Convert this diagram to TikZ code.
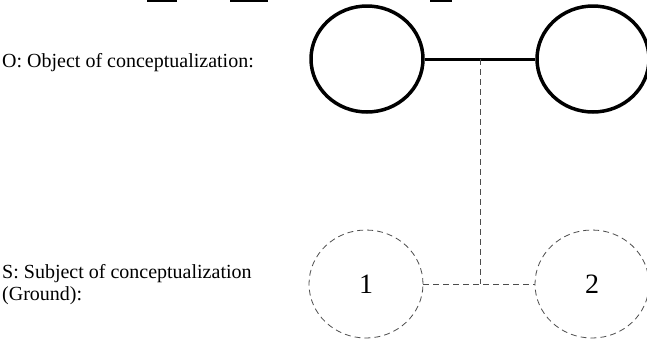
\documentclass[tikz,border=0pt]{standalone}
\usepackage{fontspec}
\setmainfont{Liberation Serif}
\usetikzlibrary{shapes.geometric}
\begin{document}
\begin{tikzpicture}[x=1pt, y=-1pt,
    objcircle/.style={ellipse, draw, line width=3.5pt, minimum width=112pt, minimum height=106pt, inner sep=0pt},
    subjcircle/.style={ellipse, draw=black!70, line width=0.8pt, dash pattern=on 6pt off 4pt, minimum width=114pt, minimum height=108pt, inner sep=0pt, font=\fontsize{28}{30}\selectfont},
    link/.style={draw=black!70, line width=0.8pt, dash pattern=on 6pt off 4pt},
    label/.style={anchor=base west, inner sep=0pt, align=left, font=\fontsize{20}{22}\selectfont}]
          \useasboundingbox (0,0) rectangle (647,349);

          % bits of the lines cut off above
          \fill (147,0) rectangle (177,2);
          \fill (230,0) rectangle (268,2);
          \fill (430,0) rectangle (452,1.5);

          \node [label] (objlabel) at (2,67) {O: Object of conceptualization:};
          \node [label] (subjlabel) at (2,300) {S: Subject of conceptualization\\(Ground):};

          \node [objcircle] (O1) at (367,59) {}; % Draws a circle
          \node [objcircle] (O2) at (593,59) {}; % Draws a circle

          \node [subjcircle] (S1) at (366,284) {1}; % Draws a dashed circle
          \node [subjcircle] (S2) at (592,284) {2}; % Draws a dashed circle

          \draw [line width=3pt] (O1) -- node [coordinate, midway] (mid) {} (O2);
          \draw [link] (S1) -- (S2);
          \coordinate (joint) at (mid |- S1.east);
          \draw [link] (mid) -- (joint);
        \end{tikzpicture}
\end{document}
